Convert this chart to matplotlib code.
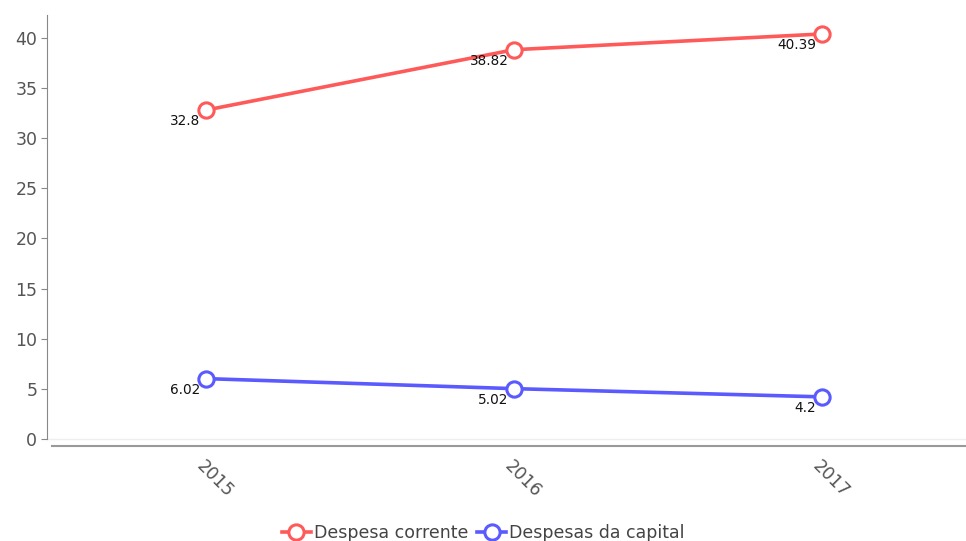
import matplotlib
matplotlib.use("Agg")
import matplotlib.pyplot as plt

years = ["2015", "2016", "2017"]
corrente = [32.8, 38.82, 40.39]
capital = [6.02, 5.02, 4.2]

red = "#ff5a5a"
blue = "#5a5aff"

fig = plt.figure(figsize=(9.66, 5.41), dpi=100)
ax = fig.add_axes([0.0487, 0.1756, 0.9513, 0.797])

x = range(len(years))
ax.plot(x, corrente, color=red, lw=2.6, marker="o", ms=11, mfc="white",
        mec=red, mew=2.2, label="Despesa corrente", zorder=3)
ax.plot(x, capital, color=blue, lw=2.6, marker="o", ms=11, mfc="white",
        mec=blue, mew=2.2, label="Despesas da capital", zorder=3)

for xs, ys in [(x, corrente), (x, capital)]:
    for xi, yi in zip(xs, ys):
        ax.annotate(f"{yi:g}", (xi, yi), xytext=(-4, -8), textcoords="offset points",
                    ha="right", va="center", fontsize=9.8, color="#111111", zorder=4)

ax.axhline(0, color="#eeeeee", lw=1, zorder=1)

ax.set_xlim(-0.516, 2.468)
ax.set_ylim(-0.7, 42.3)
ax.set_yticks(range(0, 45, 5))
ax.set_xticks(list(x))
ax.set_xticklabels(years, rotation=-45, ha="left", rotation_mode="anchor")

for s in ["top", "right"]:
    ax.spines[s].set_visible(False)
ax.spines["left"].set_bounds(0, 42.3)
ax.spines["bottom"].set_bounds(-0.5, 2.468)
ax.spines["left"].set_color("#888888")
ax.spines["bottom"].set_color("#999999")
ax.spines["bottom"].set_linewidth(1.5)

ax.tick_params(axis="y", length=4, color="#888888", labelcolor="#555555", labelsize=12.5, pad=3)
ax.tick_params(axis="x", length=0, labelcolor="#555555", labelsize=12.5, pad=8)

fig.legend(loc="lower center", bbox_to_anchor=(0.5, -0.03), ncol=2, frameon=False,
           fontsize=12.5, handlelength=1.7, handletextpad=0.15, columnspacing=0.5,
           labelcolor="#444444")

fig.savefig("out.png", dpi=100)
